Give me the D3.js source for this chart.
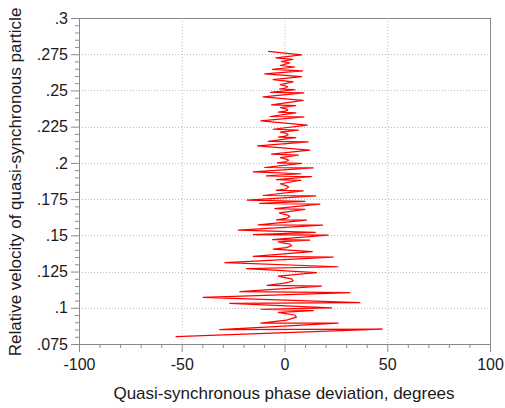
<!DOCTYPE html>
<html><head><meta charset="utf-8">
<script src="https://cdn.jsdelivr.net/npm/d3@7"></script>
<style>body{margin:0;background:#fff;}svg{display:block;font-family:"Liberation Sans",Arial,sans-serif;}</style>
</head><body>
<svg id="c" width="505" height="408"></svg>
<script>
// ---- data ----
const phase = [
 -53.0, 47.5, -31.5, 26.1, -11.5,
 1.0, 5.8, 5.0, 0.5, -3.0,
 14.0, -11.5, 22.9, -26.6, 36.7, -39.6, 31.8, -21.7, 18.0, -8.5,
 0.0, 4.2, 3.5, -0.5, -3.0,
 15.6, -18.5, 26.0, -29.0, 23.7, -15.2, 13.5, -5.5,
 1.0, 3.5, 2.5, -1.0, -3.0,
 12.3, -5.8, 21.2, -15.2, 15.0, -22.5, 18.5, -12.8, 10.7, -3.9,
 1.0, 2.6, 1.5, -1.0, -2.5,
 9.9, -4.7, 17.2, -12.0, 10.0, -18.2, 15.2, -10.4, 9.1, -4.0,
 0.5, 2.0, 1.0, -1.0, -2.0,
 8.0, -4.0, 13.1, -8.8, 8.0, -15.2, 13.9, -9.6, 8.3, -3.5,
 0.5, 2.0, 1.0, -1.0, -2.0,
 6.7, -6.3, 12.3, -13.1, 11.5, -7.9, 5.5, -3.0,
 0.5, 1.8, 1.0, -1.0, -2.0,
 6.7, -5.5, 11.0, -11.5, 9.4, -7.0, 5.5, -3.0,
 0.5, 1.6, 0.8, -1.0, -2.0,
 5.5, -6.3, 9.1, -10.4, 9.4, -6.8, 5.0, -2.5,
 0.5, 1.5, 0.5, -1.0, -2.0,
 4.2, -5.5, 8.3, -9.6, 8.8, -5.8, 5.0, -2.0, 2.5, -1.5, 4.0, -4.2, 8.3, -7.9
];
const velocity = [
 .0801, .0853, .0849, .0894, .0894,
 .0915, .0935, .0950, .0960, .0968,
 .0980, .0990, .1000, .1030, .1035, .1072, .1105, .1111, .1150, .1155,
 .1170, .1185, .1200, .1210, .1218,
 .1242, .1270, .1283, .1311, .1350, .1355, .1387, .1405,
 .1415, .1428, .1440, .1448, .1455,
 .1467, .1470, .1502, .1505, .1520, .1536, .1570, .1572, .1605, .1607,
 .1617, .1630, .1640, .1648, .1655,
 .1679, .1685, .1715, .1720, .1735, .1743, .1773, .1775, .1807, .1810,
 .1820, .1833, .1843, .1850, .1856,
 .1880, .1885, .1905, .1910, .1925, .1938, .1965, .1968, .1996, .2000,
 .2008, .2018, .2026, .2032, .2036,
 .2053, .2060, .2088, .2117, .2145, .2148, .2175, .2178,
 .2185, .2195, .2203, .2208, .2212,
 .2226, .2232, .2260, .2290, .2317, .2320, .2345, .2350,
 .2357, .2366, .2373, .2378, .2382,
 .2395, .2400, .2432, .2455, .2483, .2486, .2506, .2510,
 .2517, .2525, .2532, .2536, .2540,
 .2559, .2575, .2595, .2615, .2635, .2645, .2662, .2672, .2690, .2700, .2715, .2725, .2745, .2770
];
const xTicks = [-100, -50, 0, 50, 100];
const xTickLabels = ["-100", "-50", "0", "50", "100"];
const xMinor = [-90,-80,-70,-60,-40,-30,-20,-10,10,20,30,40,60,70,80,90];
const yTicks = [.075, .1, .125, .15, .175, .2, .225, .25, .275, .3];
const yTickLabels = [".075", ".1", ".125", ".15", ".175", ".2", ".225", ".25", ".275", ".3"];
const xGrid = [-50, 0, 50];
const yGrid = [.1, .125, .15, .175, .2, .225, .25, .275];
const xTitle = "Quasi-synchronous phase deviation, degrees";
const yTitle = "Relative velocity of quasi-synchronous particle";

// ---- layout ----
const L = 79, R = 490, T = 18, B = 344;
const svg = d3.select("#c");
const x = d3.scaleLinear().domain([-100, 100]).range([L, R]);
const y = d3.scaleLinear().domain([.075, .3]).range([B, T]);
const axisCol = "#8a8a8a";
const textCol = "#1a1a1a";

// grid
svg.append("g").selectAll("line").data(xGrid).join("line")
  .attr("x1", d => x(d) + .5).attr("x2", d => x(d) + .5).attr("y1", T).attr("y2", B)
  .attr("stroke", "#bcbcbc").attr("stroke-dasharray", "1 2");
svg.append("g").selectAll("line").data(yGrid).join("line")
  .attr("y1", d => Math.round(y(d)) + .5).attr("y2", d => Math.round(y(d)) + .5).attr("x1", L).attr("x2", R)
  .attr("stroke", "#bcbcbc").attr("stroke-dasharray", "1 2");

// minor y ticks
const yMinor = d3.range(0, 46).map(i => .075 + i * .005).filter(v => !yTicks.some(t => Math.abs(t - v) < 1e-6));

function styleAxis(g) {
  g.select(".domain").remove();
  g.selectAll("line").attr("stroke", axisCol);
  g.selectAll("text").attr("fill", textCol).style("font-size", "16px").style("font-family", '"Liberation Sans",Arial,sans-serif');
}

svg.append("g").attr("transform", `translate(0,${B})`)
  .call(d3.axisBottom(x).tickValues(xMinor).tickSize(4).tickFormat(""))
  .call(styleAxis);
svg.append("g").attr("transform", `translate(0,${B})`)
  .call(d3.axisBottom(x).tickValues(xTicks).tickSize(8).tickPadding(7)
    .tickFormat((d, i) => xTickLabels[i]))
  .call(styleAxis);
svg.append("g").attr("transform", `translate(${L},0)`)
  .call(d3.axisLeft(y).tickValues(yMinor).tickSize(4).tickFormat(""))
  .call(styleAxis);
svg.append("g").attr("transform", `translate(${L},0)`)
  .call(d3.axisLeft(y).tickValues(yTicks).tickSize(8).tickPadding(3)
    .tickFormat((d, i) => yTickLabels[i]))
  .call(styleAxis);

// frame
svg.append("rect").attr("x", L + .5).attr("y", T + .5).attr("width", R - L).attr("height", B - T)
  .attr("fill", "none").attr("stroke", axisCol);

// data line
const pts = phase.map((p, i) => [p, velocity[i]]);
svg.append("path").datum(pts)
  .attr("d", d3.line().x(d => x(d[0])).y(d => y(d[1])))
  .attr("fill", "none").attr("stroke", "#ff0000").attr("stroke-width", 1.2)
  .attr("stroke-linejoin", "round");

// titles
svg.append("text").attr("x", 284).attr("y", 399).attr("text-anchor", "middle")
  .style("font-size", "17px").attr("fill", textCol).text(xTitle);
svg.append("text").attr("transform", "translate(21,182) rotate(-90)").attr("text-anchor", "middle")
  .style("font-size", "17px").attr("fill", textCol).text(yTitle);
</script>
</body></html>
